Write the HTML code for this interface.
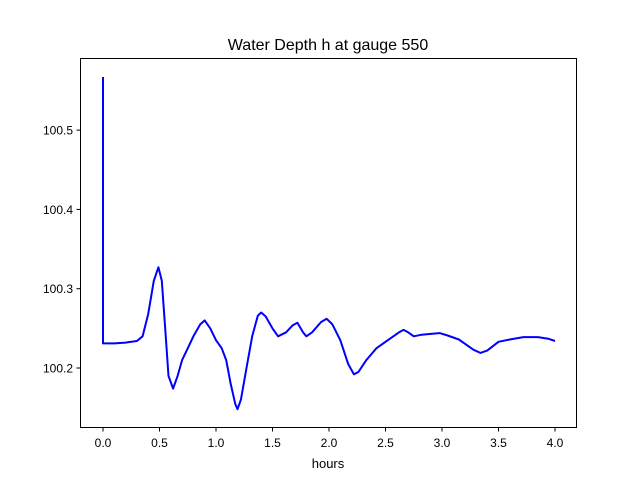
<!DOCTYPE html>
<html><head><meta charset="utf-8"><style>
body{margin:0;background:#fff;}
svg text{font-family:"Liberation Sans",sans-serif;}
</style></head><body>
<svg id="chart" width="640" height="480" xmlns="http://www.w3.org/2000/svg">
<rect x="0" y="0" width="640" height="480" fill="#fff"/>
<text x="328" y="50" font-size="16" text-anchor="middle">Water Depth h at gauge 550</text>
<text x="328" y="468" font-size="13" text-anchor="middle">hours</text>
<g id="ticks"></g>
<path id="line" fill="none" stroke="#0000ff" stroke-width="2" stroke-linejoin="round"/>
<rect x="80.5" y="58.5" width="496" height="369" fill="none" stroke="#000" stroke-width="1"/>
</svg>
<script>
const xs=[0,0,0.1,0.2,0.3,0.35,0.4,0.45,0.49,0.52,0.55,0.58,0.62,0.66,0.7,0.75,0.8,0.86,0.9,0.95,1.0,1.05,1.09,1.13,1.17,1.19,1.22,1.27,1.32,1.37,1.4,1.44,1.5,1.55,1.62,1.68,1.72,1.77,1.8,1.85,1.93,1.98,2.03,2.1,2.17,2.22,2.26,2.33,2.42,2.52,2.62,2.66,2.7,2.75,2.82,2.9,2.98,3.05,3.15,3.28,3.34,3.4,3.5,3.6,3.72,3.85,3.94,4.0];
const ys=[100.567,100.231,100.231,100.232,100.234,100.24,100.268,100.31,100.327,100.31,100.25,100.19,100.174,100.19,100.21,100.225,100.24,100.255,100.26,100.25,100.235,100.225,100.21,100.18,100.155,100.148,100.16,100.2,100.24,100.266,100.27,100.265,100.25,100.24,100.245,100.254,100.257,100.245,100.24,100.245,100.258,100.262,100.255,100.235,100.205,100.192,100.195,100.21,100.225,100.235,100.245,100.248,100.245,100.24,100.242,100.243,100.244,100.241,100.236,100.223,100.219,100.222,100.233,100.236,100.239,100.239,100.237,100.234];
const xTicks=[0,0.5,1,1.5,2,2.5,3,3.5,4];
const xTickLabels=["0.0","0.5","1.0","1.5","2.0","2.5","3.0","3.5","4.0"];
const yTicks=[100.2,100.3,100.4,100.5];
const yTickLabels=["100.2","100.3","100.4","100.5"];
const X=v=>103+v*113;
const Y=v=>368-(v-100.2)*793;
const ns="http://www.w3.org/2000/svg";
const g=document.getElementById('ticks');
function mk(t,a){const e=document.createElementNS(ns,t);for(const k in a)e.setAttribute(k,a[k]);g.appendChild(e);return e;}
xTicks.forEach((v,i)=>{
  const l=mk('line',{x1:X(v),x2:X(v),y1:427.5,y2:431.5,stroke:'#000'});
  
  
  const t=mk('text',{x:X(v),y:447,'font-size':12,'text-anchor':'middle'});
  t.textContent=xTickLabels[i];
  
  
});
yTicks.forEach((v,i)=>{
  const l=mk('line',{x1:76.5,x2:80.5,y1:Y(v),y2:Y(v),stroke:'#000'});
  
  
  const t=mk('text',{x:73,y:Y(v)+4.5,'font-size':12,'text-anchor':'end'});
  t.textContent=yTickLabels[i];
  
  
});
document.getElementById('line').setAttribute('d',xs.map((v,i)=>(i?'L':'M')+X(v).toFixed(1)+','+Y(ys[i]).toFixed(1)).join(''));
</script>
</body></html>
